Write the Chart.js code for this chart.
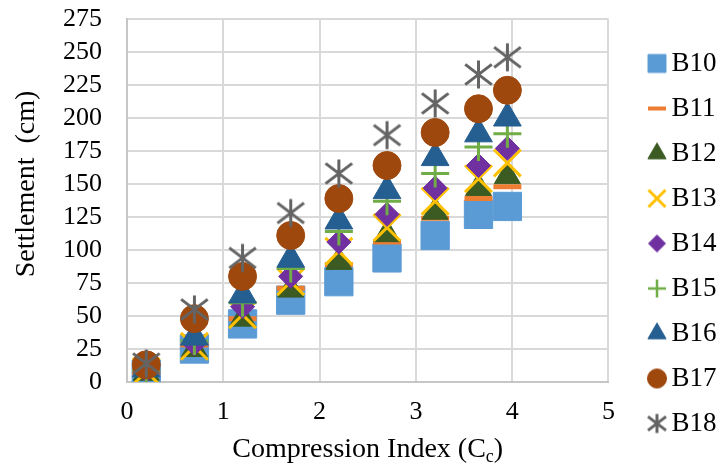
<!DOCTYPE html>
<html>
<head>
<meta charset="utf-8">
<script src="https://cdn.jsdelivr.net/npm/chart.js@4/dist/chart.umd.min.js"></script>
<style>
  html, body { margin: 0; padding: 0; background: #fff; }
  #wrap { width: 721px; height: 470px; }
</style>
</head>
<body>
<div id="wrap"><canvas id="chart" width="721" height="470"></canvas></div>
<script>
// Compression index values shared by every borehole
const cc = [0.2, 0.7, 1.2, 1.7, 2.2, 2.7, 3.2, 3.65, 3.95];

// Settlement (cm) per borehole
const b10 = [6, 25, 44, 62, 76, 94, 111, 127, 133];
const b11 = [7, 28, 48, 71, 89, 106, 124, 139, 148];
const b12 = [7, 25, 48, 70, 91, 112, 129, 147, 156];
const b13 = [8, 27, 51, 76, 99, 117, 137, 154, 166];
const b14 = [9, 29, 57, 80, 106, 127, 147, 164, 177];
const b15 = [9, 31, 60, 86, 114, 137, 158, 178, 188];
const b16 = [10, 34, 66, 93, 122, 145, 170, 188, 200];
const b17 = [13, 48, 80, 111, 139, 164, 189, 207, 221];
const b18 = [14, 55, 94, 128, 158, 187, 211, 233, 246];

const names = ["B10", "B11", "B12", "B13", "B14", "B15", "B16", "B17", "B18"];
const values = [b10, b11, b12, b13, b14, b15, b16, b17, b18];
const colors = ["#5B9BD5", "#ED7D31", "#3B5B22", "#FFC000", "#7030A0", "#70AD47", "#255E91", "#9E480E", "#646464"];
const styles = ["rect", "line", "triangle", "crossRot", "rectRot", "cross", "triangle", "circle", "asterisk"];
const radii = [20, 14, 15, 19, 12, 14, 16, 14, 14];
const borders = [1, 5, 1, 3, 1, 3, 1, 1, 3];
// smaller markers for the legend
const legendRadii = [12.7, 9, 10.5, 12, 8.5, 9, 10.5, 9.5, 9.5];
const legendBorders = [1, 4, 1, 3, 1, 2.5, 1, 1, 3];

const yTicks = [0, 25, 50, 75, 100, 125, 150, 175, 200, 225, 250, 275];
const xTicks = [0, 1, 2, 3, 4, 5];

const serif = "'Liberation Serif', 'Times New Roman', serif";

// six-armed asterisk: one upright stroke and two slanted ones
function asterisk(r, lw, color) {
  const size = Math.ceil(2 * r + lw + 2);
  const c = document.createElement("canvas");
  c.width = size;
  c.height = size;
  const g = c.getContext("2d");
  const m = size / 2;
  const dx = r * 0.95, dy = r * 0.72;
  g.strokeStyle = color;
  g.lineWidth = lw;
  g.beginPath();
  g.moveTo(m, m - r); g.lineTo(m, m + r);
  g.moveTo(m - dx, m - dy); g.lineTo(m + dx, m + dy);
  g.moveTo(m - dx, m + dy); g.lineTo(m + dx, m - dy);
  g.stroke();
  return c;
}

function markerStyle(i) {
  return styles[i] === "asterisk" ? asterisk(radii[i], borders[i], colors[i]) : styles[i];
}

const datasets = names.map((name, i) => ({
  label: name,
  data: cc.map((x, j) => ({ x: x, y: values[i][j] })),
  pointStyle: markerStyle(i),
  pointRadius: radii[i],
  pointHoverRadius: radii[i],
  backgroundColor: colors[i],
  borderColor: colors[i],
  borderWidth: borders[i],
  // later boreholes sit on top
  order: names.length - 1 - i,
}));

function makeIcon(i) {
  if (styles[i] === "asterisk") return asterisk(legendRadii[i], legendBorders[i], colors[i]);
  const c = document.createElement("canvas");
  c.width = 30;
  c.height = 30;
  const g = c.getContext("2d");
  g.fillStyle = colors[i];
  g.strokeStyle = colors[i];
  g.lineWidth = legendBorders[i];
  Chart.helpers.drawPoint(g, { pointStyle: styles[i], radius: legendRadii[i], borderWidth: legendBorders[i], rotation: 0 }, 15, 15);
  return c;
}
const icons = names.map((n, i) => makeIcon(i));

// axis titles, the x one carries a subscript c
const axisTitles = {
  id: "axisTitles",
  afterLayout(chart) {
    // park the legend column at the right edge
    const lg = chart.legend;
    lg.left = 638;
    lg.right = lg.left + lg.width;
    lg.top = 32;
    lg.bottom = lg.top + lg.height;
  },
  afterDraw(chart) {
    const ctx = chart.ctx;
    const area = chart.chartArea;
    ctx.save();
    ctx.fillStyle = "#000";
    ctx.textBaseline = "alphabetic";

    const main = "Compression Index (C";
    ctx.font = "28px " + serif;
    const w1 = ctx.measureText(main).width;
    const w3 = ctx.measureText(")").width;
    ctx.font = "18px " + serif;
    const w2 = ctx.measureText("c").width;
    const start = (area.left + area.right) / 2 - (w1 + w2 + w3) / 2;
    const base = 457;
    ctx.font = "28px " + serif;
    ctx.fillText(main, start, base);
    ctx.font = "18px " + serif;
    ctx.fillText("c", start + w1, base + 5);
    ctx.font = "28px " + serif;
    ctx.fillText(")", start + w1 + w2, base);

    ctx.translate(27, 184);
    ctx.rotate(-Math.PI / 2);
    ctx.textAlign = "center";
    ctx.textBaseline = "middle";
    ctx.font = "28px " + serif;
    ctx.fillText("Settlement  (cm)", 0, 0);
    ctx.restore();
  }
};

new Chart(document.getElementById("chart").getContext("2d"), {
  type: "scatter",
  data: { datasets: datasets },
  plugins: [axisTitles],
  options: {
    responsive: false,
    animation: false,
    layout: { autoPadding: false, padding: { top: 4, right: 24, bottom: 0, left: 38 } },
    plugins: {
      tooltip: { enabled: false },
      legend: {
        position: "right",
        align: "start",
        labels: {
          usePointStyle: true,
          boxWidth: 2,
          boxHeight: 18,
          padding: 18,
          color: "#000",
          font: { family: serif, size: 27 },
          generateLabels(chart) {
            const items = Chart.defaults.plugins.legend.labels.generateLabels(chart);
            items.forEach(it => { it.pointStyle = icons[it.datasetIndex]; });
            return items;
          },
          sort: (a, b) => a.datasetIndex - b.datasetIndex,
        },
      },
    },
    scales: {
      x: {
        type: "linear",
        min: 0,
        max: 5,
        afterBuildTicks: (axis) => { axis.ticks = xTicks.map(v => ({ value: v })); },
        afterFit: (axis) => { axis.height = 88; },
        grid: { color: "#d9d9d9", lineWidth: 2, drawTicks: false },
        border: { color: "#c6c6c6", width: 2 },
        ticks: { color: "#000", padding: 15, autoSkip: false, maxRotation: 0, font: { family: serif, size: 26 } },
      },
      y: {
        min: 0,
        max: 275,
        afterBuildTicks: (axis) => { axis.ticks = yTicks.map(v => ({ value: v })); },
        afterFit: (axis) => { axis.paddingTop = 19; axis.paddingBottom = 0; },
        grid: { color: "#d9d9d9", lineWidth: 2, drawTicks: false },
        border: { color: "#c6c6c6", width: 2 },
        ticks: { color: "#000", padding: 25, autoSkip: false, font: { family: serif, size: 26 } },
      },
    },
  },
});
</script>
</body>
</html>
